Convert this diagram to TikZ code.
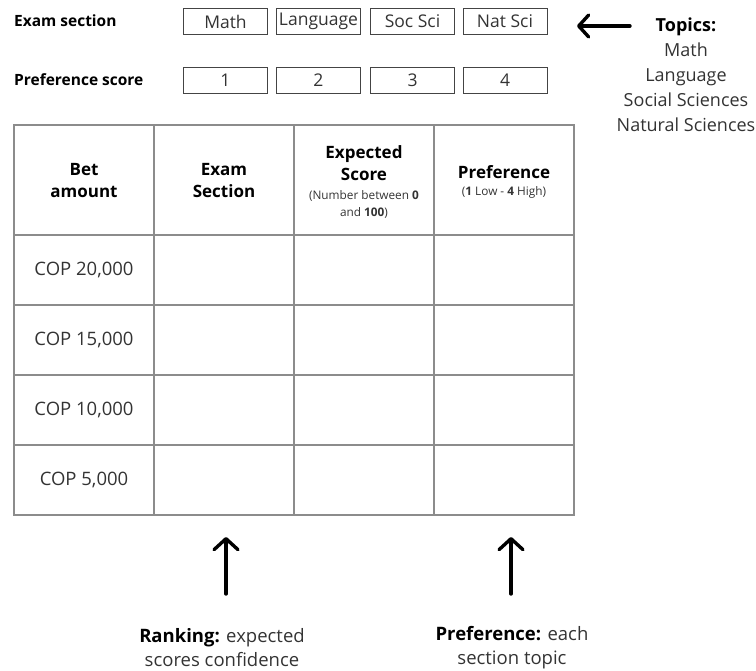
\documentclass[tikz,border=0pt]{standalone}
\usepackage{fontspec}
\setmainfont{Open Sans}
\usetikzlibrary{arrows.meta}
\definecolor{txt}{HTML}{333333}
\definecolor{tline}{HTML}{8C8C8C}
\definecolor{bline}{HTML}{444444}
\begin{document}
\begin{tikzpicture}[x=1pt,y=-1pt,
  lbl/.style={font=\bfseries\fontsize{15.5}{18}\selectfont, anchor=west, inner sep=0},
  optbox/.style={draw=bline, line width=1pt, minimum width=84pt, minimum height=26pt, inner sep=0, font=\fontsize{17.5}{18}\selectfont, text=txt},
  cell/.style={draw=tline, line width=1.3pt, minimum width=140pt, minimum height=70pt, inner sep=0, font=\fontsize{18.5}{19}\selectfont, text=txt},
  hdr/.style={font=\bfseries\fontsize{17}{22}\selectfont, align=center, inner sep=0},
  sub/.style={font=\fontsize{11.8}{17}\selectfont, align=center, inner sep=0, text=txt},
  note/.style={font=\fontsize{18.5}{24}\selectfont, align=center, inner sep=0, text=txt},
  bigarrow/.style={line width=3.4pt, line cap=round, -{Straight Barb[length=11pt, width=24pt, line cap=round, line join=round]}},
]
\useasboundingbox (0,0) rectangle (756,671);

% top labels
\node[lbl] (lexam) at (14,21) {Exam section};
\node[lbl] (lpref) at (14,80) {Preference score};

% option boxes
\node[optbox] (bmath) at (225.5,21.5) {Math};
\node[optbox] (blang) at (318.5,21.5) {Language};
\node[optbox] (bsoc)  at (412.5,21.5) {Soc Sci};
\node[optbox] (bnat)  at (505,21.5) {Nat Sci};
\node[optbox] (p1) at (225.5,80.5) {1};
\node[optbox] (p2) at (318.5,80.5) {2};
\node[optbox] (p3) at (412.5,80.5) {3};
\node[optbox] (p4) at (505,80.5) {4};

% topics
\coordinate (tas) at (630,26);
\coordinate (tae) at (577,26);
\draw[bigarrow, -{Straight Barb[length=10pt, width=22pt, line cap=round, line join=round]}] (tas) -- (tae);
\node[note, font=\fontsize{18}{25}\selectfont] (topics) at (686,75) {\textbf{\color{black}Topics:}\\Math\\Language\\Social Sciences\\Natural Sciences};

% table header
\foreach \c/\x in {1/84,2/224,3/364,4/504}{
  \node[cell, minimum height=110pt] (h\c) at (\x,180) {};
}
\node[hdr] (th1) at (84,181) {Bet\\amount};
\node[hdr] (th2) at (224,181) {Exam\\Section};
\node[hdr] (th3) at (364,163) {Expected\\Score};
\node[sub] (ts3) at (364,204) {(Number between \textbf{0}\\and \textbf{100})};
\node[hdr] (th4) at (504,172) {Preference};
\node[sub] (ts4) at (504,192) {(\textbf{1} Low - \textbf{4} High)};

% table body
\foreach \r/\y/\amt in {1/270/{COP 20,000},2/340/{COP 15,000},3/410/{COP 10,000},4/480/{COP 5,000}}{
  \node[cell] (r\r c1) at (84,\y) {\amt};
  \node[cell] (r\r c2) at (224,\y) {};
  \node[cell] (r\r c3) at (364,\y) {};
  \node[cell] (r\r c4) at (504,\y) {};
}

% bottom arrows and notes
\coordinate (a1s) at (226,594);
\coordinate (a1e) at (226,537);
\coordinate (a2s) at (511,594);
\coordinate (a2e) at (511,537);
\draw[bigarrow] (a1s) -- (a1e);
\draw[bigarrow] (a2s) -- (a2e);
\node[note] (nrank) at (222,648) {\textbf{\color{black}Ranking:} expected\\scores confidence};
\node[note] (npref) at (512,648) {\textbf{\color{black}Preference:} each\\section topic};
\end{tikzpicture}
\end{document}
